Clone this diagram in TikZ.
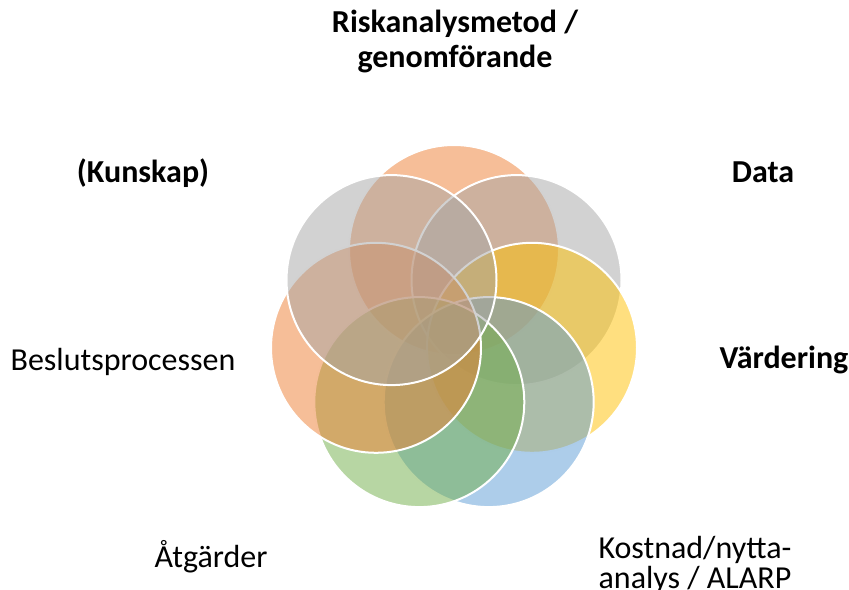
\documentclass[tikz,border=0pt]{standalone}
\usepackage{fontspec}
\setmainfont{Carlito}

\definecolor{accOrange}{HTML}{ED7D31}
\definecolor{accGray}{HTML}{A5A5A5}
\definecolor{accYellow}{HTML}{FFC000}
\definecolor{accBlue}{HTML}{5B9BD5}
\definecolor{accGreen}{HTML}{70AD47}

\tikzset{
  venn/.style={fill=#1,fill opacity=0.5,draw=white,draw opacity=1,line width=1.5pt},
  lbl/.style={font=\fontsize{24}{26.25}\selectfont,inner sep=0pt,align=center,anchor=base},
  lblbold/.style={lbl,font=\fontsize{24}{26.25}\selectfont\bfseries}
}

\begin{document}
\begin{tikzpicture}[x=0.75pt,y=-0.75pt]
\useasboundingbox (0,0) rectangle (849,589);

% Circles, clockwise from the top
\draw[venn=accOrange] (454,250) circle (78.75pt);
\draw[venn=accGray] (516.5,280.1) circle (78.75pt);
\draw[venn=accYellow] (532,347.8) circle (78.75pt);
\draw[venn=accBlue] (488.7,402.1) circle (78.75pt);
\draw[venn=accGreen] (419.3,402.1) circle (78.75pt);
\draw[venn=accOrange] (376,347.8) circle (78.75pt);
\draw[venn=accGray] (391.5,280.1) circle (78.75pt);

% Labels (base = last line)
\node[lblbold] (metod) at (455,67) {Riskanalysmetod /\\genomförande};
\node[lblbold] (data) at (763,182) {Data};
\node[lblbold] (vardering) at (784,368) {Värdering};
\node[lbl,font=\fontsize{24}{22.5}\selectfont] (kostnad) at (695,588) {Kostnad/nytta-\\analys / ALARP};
\node[lbl] (atgarder) at (211,567) {Åtgärder};
\node[lbl] (beslut) at (123,370) {Beslutsprocessen};
\node[lblbold] (kunskap) at (143,182) {(Kunskap)};

\end{tikzpicture}
\end{document}
